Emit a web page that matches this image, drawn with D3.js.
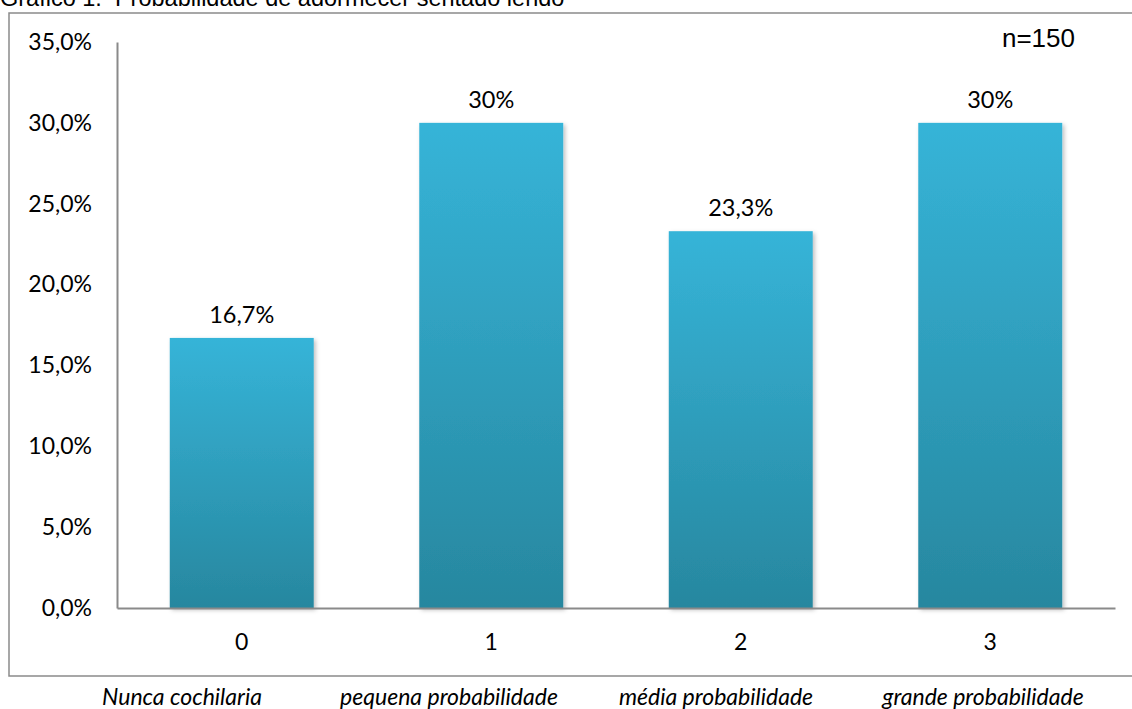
<!DOCTYPE html>
<html>
<head>
<meta charset="utf-8">
<script src="https://cdn.jsdelivr.net/npm/d3@7/dist/d3.min.js"></script>
<style>
  html, body { margin: 0; padding: 0; background: #fff; }
  svg { display: block; }
</style>
</head>
<body>
<svg id="chart" width="1132" height="709"></svg>
<script>
// Sleepiness survey: probability of dozing while sitting and reading
const categories = ["0", "1", "2", "3"];
const categoryNames = ["Nunca cochilaria", "pequena probabilidade", "média probabilidade", "grande probabilidade"];
const values = [16.7, 30, 23.3, 30];
const valueLabels = ["16,7%", "30%", "23,3%", "30%"];
const yTicks = [0, 5, 10, 15, 20, 25, 30, 35];
const titleText = "Gráfico 1:\u00a0 Probabilidade de adormecer sentado lendo";
const noteText = "n=150";

const svg = d3.select("#chart");
const plot = { left: 117, right: 1115, top: 42, bottom: 608 };

const x = d3.scaleBand().domain(categories).range([plot.left, plot.right]).paddingInner(0.423).paddingOuter(0.2115);
const y = d3.scaleLinear().domain([0, 35]).range([plot.bottom, plot.top]);
// Caption row below the frame has its own spacing
const xNames = d3.scalePoint().domain(categoryNames).range([182, 983]);

const defs = svg.append("defs");
const grad = defs.append("linearGradient").attr("id", "barFill").attr("x1", 0).attr("y1", 0).attr("x2", 0).attr("y2", 1);
grad.append("stop").attr("offset", "0%").attr("stop-color", "#36b4d8");
grad.append("stop").attr("offset", "100%").attr("stop-color", "#27879f");
const shadow = defs.append("filter").attr("id", "barShadow").attr("x", "-10%").attr("y", "-10%").attr("width", "130%").attr("height", "130%");
shadow.append("feDropShadow").attr("dx", 2).attr("dy", 2).attr("stdDeviation", 2).attr("flood-color", "#000").attr("flood-opacity", 0.25);

// Title (partly above the visible area)
svg.append("text").attr("x", 0).attr("y", 6)
  .attr("font-family", "Liberation Sans, Arial, sans-serif").attr("font-size", 23.5)
  .attr("fill", "#000").text(titleText);

// Chart frame
svg.append("rect").attr("x", 9).attr("y", 13).attr("width", 1140).attr("height", 663)
  .attr("fill", "none").attr("stroke", "#8a8a8a").attr("stroke-width", 1.5);

// Bars
svg.append("g").selectAll("rect").data(values).join("rect")
  .attr("x", (d, i) => x(categories[i]))
  .attr("y", d => y(d))
  .attr("width", x.bandwidth())
  .attr("height", d => y(0) - y(d))
  .attr("fill", "url(#barFill)")
  .attr("filter", "url(#barShadow)");

// Value labels
svg.append("g").selectAll("text").data(values).join("text")
  .attr("x", (d, i) => x(categories[i]) + x.bandwidth() / 2)
  .attr("y", d => y(d) - 15)
  .attr("text-anchor", "middle")
  .attr("font-family", "Lato, sans-serif").attr("font-size", 23.5).attr("fill", "#000")
  .text((d, i) => valueLabels[i]);

// Y axis
const yAxis = d3.axisLeft(y).tickValues(yTicks).tickSize(0).tickPadding(25)
  .tickFormat(d => d3.format(".1f")(d).replace(".", ",") + "%");
const gy = svg.append("g").attr("transform", `translate(${plot.left},0)`).call(yAxis);
gy.select(".domain").attr("stroke", "#8a8a8a").attr("stroke-width", 2);
gy.selectAll("text").attr("font-family", "Lato, sans-serif").attr("font-size", 23).attr("fill", "#000");

// X axis
const xAxis = d3.axisBottom(x).tickSize(0).tickPadding(26);
const gx = svg.append("g").attr("transform", `translate(0,${plot.bottom})`).call(xAxis);
gx.select(".domain").attr("stroke", "#8a8a8a").attr("stroke-width", 2);
gx.selectAll("text").attr("font-family", "Lato, sans-serif").attr("font-size", 23).attr("fill", "#000");

// Category descriptions below the frame
svg.append("g").selectAll("text").data(categoryNames).join("text")
  .attr("x", d => xNames(d))
  .attr("y", 705)
  .attr("text-anchor", "middle")
  .attr("font-family", "Lato, sans-serif").attr("font-style", "italic").attr("font-size", 23).attr("fill", "#000")
  .text(d => d);

// Sample size note
svg.append("text").attr("x", 1075).attr("y", 47).attr("text-anchor", "end")
  .attr("font-family", "Liberation Sans, Arial, sans-serif").attr("font-size", 26).attr("fill", "#000")
  .text(noteText);
</script>
</body>
</html>
